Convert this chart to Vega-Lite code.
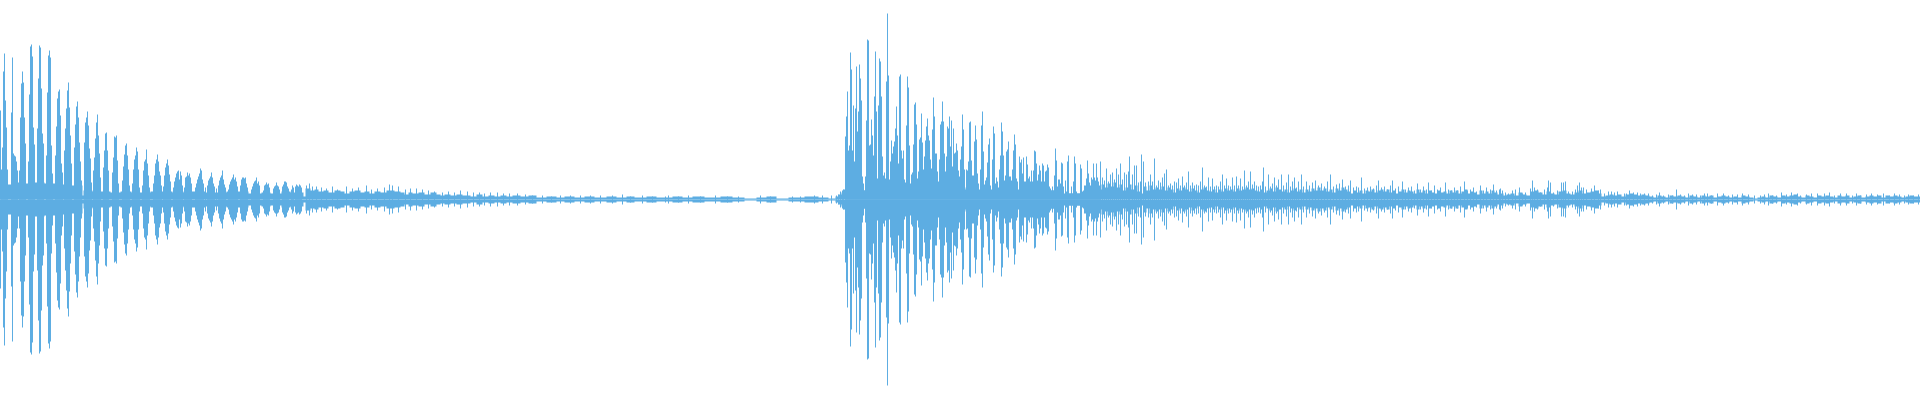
{"$schema":"https://vega.github.io/schema/vega-lite/v6.json","width":1920,"height":400,"autosize":{"type":"none"},"padding":0,"background":"white","view":{"stroke":null},
"datasets":{"core":[{"t":0,"c":16},{"t":6,"c":15},{"t":14,"c":17},{"t":20,"c":16},{"t":33,"c":17},{"t":44,"c":16},{"t":62,"c":15},{"t":71,"c":14},{"t":82,"c":4},{"t":83,"c":9},{"t":92,"c":8},{"t":110,"c":7},{"t":120,"c":8},{"t":131,"c":7},{"t":150,"c":8},{"t":172,"c":7},{"t":183,"c":8},{"t":205,"c":7},{"t":226,"c":8},{"t":248,"c":6},{"t":261,"c":7},{"t":270,"c":6},{"t":281,"c":8},{"t":290,"c":7},{"t":303,"c":3},{"t":305,"c":11},{"t":310,"c":9},{"t":314,"c":10},{"t":318,"c":8},{"t":323,"c":9},{"t":328,"c":7},{"t":334,"c":9},{"t":340,"c":8},{"t":344,"c":6},{"t":349,"c":8},{"t":354,"c":9},{"t":360,"c":7},{"t":364,"c":8},{"t":369,"c":6},{"t":374,"c":8},{"t":380,"c":7},{"t":386,"c":9},{"t":394,"c":8},{"t":400,"c":7},{"t":404,"c":5},{"t":408,"c":7},{"t":412,"c":6},{"t":418,"c":7},{"t":424,"c":5},{"t":430,"c":7},{"t":436,"c":5},{"t":440,"c":4},{"t":444,"c":5},{"t":450,"c":4},{"t":456,"c":5},{"t":462,"c":4},{"t":470,"c":3},{"t":476,"c":5},{"t":482,"c":3},{"t":488,"c":4},{"t":494,"c":3},{"t":500,"c":4},{"t":506,"c":3},{"t":512,"c":4},{"t":520,"c":3},{"t":528,"c":4},{"t":536,"c":2},{"t":546,"c":3},{"t":556,"c":2},{"t":564,"c":3},{"t":574,"c":2},{"t":584,"c":3},{"t":594,"c":2},{"t":606,"c":3},{"t":616,"c":2},{"t":626,"c":3},{"t":634,"c":2},{"t":646,"c":3},{"t":656,"c":2},{"t":672,"c":3},{"t":682,"c":2},{"t":692,"c":3},{"t":704,"c":2},{"t":720,"c":3},{"t":732,"c":2},{"t":744,"c":1},{"t":756,"c":2},{"t":766,"c":3},{"t":776,"c":1},{"t":788,"c":2},{"t":804,"c":3},{"t":818,"c":2},{"t":828,"c":1},{"t":835,"c":3},{"t":838,"c":5},{"t":841,"c":7},{"t":843,"c":10},{"t":845,"c":14},{"t":862,"c":9},{"t":865,"c":14},{"t":905,"c":12},{"t":965,"c":10},{"t":1020,"c":9},{"t":1060,"c":6},{"t":1084,"c":9},{"t":1086,"c":11},{"t":1090,"c":9},{"t":1094,"c":12},{"t":1098,"c":10},{"t":1101,"c":15},{"t":1104,"c":12},{"t":1107,"c":16},{"t":1110,"c":13},{"t":1113,"c":17},{"t":1116,"c":12},{"t":1119,"c":15},{"t":1122,"c":9},{"t":1125,"c":12},{"t":1128,"c":15},{"t":1131,"c":10},{"t":1134,"c":14},{"t":1137,"c":8},{"t":1140,"c":6},{"t":1143,"c":13},{"t":1146,"c":9},{"t":1149,"c":14},{"t":1152,"c":10},{"t":1155,"c":12},{"t":1158,"c":10},{"t":1161,"c":13},{"t":1164,"c":9},{"t":1167,"c":12},{"t":1170,"c":10},{"t":1173,"c":7},{"t":1176,"c":11},{"t":1179,"c":9},{"t":1182,"c":12},{"t":1185,"c":10},{"t":1188,"c":8},{"t":1191,"c":11},{"t":1194,"c":9},{"t":1197,"c":7},{"t":1200,"c":10},{"t":1203,"c":12},{"t":1206,"c":9},{"t":1209,"c":8},{"t":1212,"c":10},{"t":1215,"c":7},{"t":1218,"c":10},{"t":1221,"c":8},{"t":1224,"c":11},{"t":1227,"c":9},{"t":1230,"c":10},{"t":1233,"c":8},{"t":1236,"c":11},{"t":1239,"c":9},{"t":1242,"c":10},{"t":1245,"c":12},{"t":1248,"c":10},{"t":1251,"c":11},{"t":1254,"c":9},{"t":1257,"c":8},{"t":1260,"c":10},{"t":1263,"c":7},{"t":1266,"c":9},{"t":1269,"c":11},{"t":1272,"c":8},{"t":1275,"c":12},{"t":1278,"c":10},{"t":1281,"c":8},{"t":1284,"c":10},{"t":1287,"c":7},{"t":1290,"c":9},{"t":1293,"c":11},{"t":1296,"c":8},{"t":1299,"c":10},{"t":1302,"c":7},{"t":1305,"c":10},{"t":1308,"c":8},{"t":1311,"c":11},{"t":1314,"c":9},{"t":1317,"c":12},{"t":1320,"c":9},{"t":1323,"c":11},{"t":1326,"c":8},{"t":1329,"c":10},{"t":1332,"c":7},{"t":1335,"c":11},{"t":1338,"c":9},{"t":1341,"c":12},{"t":1344,"c":10},{"t":1347,"c":8},{"t":1350,"c":6},{"t":1353,"c":9},{"t":1356,"c":7},{"t":1359,"c":9},{"t":1362,"c":6},{"t":1365,"c":9},{"t":1368,"c":8},{"t":1371,"c":10},{"t":1374,"c":7},{"t":1377,"c":9},{"t":1380,"c":10},{"t":1383,"c":8},{"t":1386,"c":10},{"t":1389,"c":7},{"t":1392,"c":9},{"t":1395,"c":6},{"t":1398,"c":8},{"t":1401,"c":10},{"t":1404,"c":7},{"t":1407,"c":9},{"t":1410,"c":8},{"t":1413,"c":6},{"t":1416,"c":10},{"t":1419,"c":7},{"t":1422,"c":9},{"t":1425,"c":6},{"t":1428,"c":9},{"t":1431,"c":7},{"t":1434,"c":6},{"t":1437,"c":9},{"t":1440,"c":7},{"t":1443,"c":8},{"t":1446,"c":6},{"t":1449,"c":9},{"t":1452,"c":7},{"t":1455,"c":9},{"t":1458,"c":6},{"t":1461,"c":8},{"t":1464,"c":10},{"t":1467,"c":6},{"t":1470,"c":8},{"t":1473,"c":7},{"t":1476,"c":5},{"t":1479,"c":9},{"t":1482,"c":6},{"t":1485,"c":8},{"t":1488,"c":6},{"t":1491,"c":9},{"t":1494,"c":7},{"t":1497,"c":5},{"t":1500,"c":6},{"t":1503,"c":4},{"t":1506,"c":5},{"t":1510,"c":6},{"t":1514,"c":4},{"t":1518,"c":7},{"t":1522,"c":5},{"t":1526,"c":4},{"t":1530,"c":8},{"t":1534,"c":9},{"t":1538,"c":7},{"t":1542,"c":5},{"t":1546,"c":8},{"t":1550,"c":6},{"t":1554,"c":5},{"t":1558,"c":8},{"t":1562,"c":9},{"t":1566,"c":6},{"t":1570,"c":5},{"t":1574,"c":7},{"t":1578,"c":9},{"t":1582,"c":6},{"t":1586,"c":7},{"t":1590,"c":8},{"t":1594,"c":9},{"t":1598,"c":6},{"t":1601,"c":3},{"t":1605,"c":4},{"t":1609,"c":5},{"t":1613,"c":4},{"t":1617,"c":5},{"t":1621,"c":3},{"t":1625,"c":5},{"t":1629,"c":6},{"t":1633,"c":5},{"t":1637,"c":4},{"t":1641,"c":5},{"t":1645,"c":4},{"t":1649,"c":3},{"t":1653,"c":2},{"t":1657,"c":4},{"t":1661,"c":3},{"t":1665,"c":2},{"t":1669,"c":4},{"t":1673,"c":3},{"t":1677,"c":4},{"t":1681,"c":3},{"t":1685,"c":2},{"t":1689,"c":4},{"t":1693,"c":3},{"t":1697,"c":2},{"t":1701,"c":4},{"t":1705,"c":3},{"t":1709,"c":4},{"t":1713,"c":2},{"t":1717,"c":3},{"t":1721,"c":4},{"t":1725,"c":3},{"t":1729,"c":2},{"t":1733,"c":3},{"t":1737,"c":2},{"t":1741,"c":4},{"t":1745,"c":3},{"t":1749,"c":2},{"t":1753,"c":1},{"t":1757,"c":2},{"t":1761,"c":3},{"t":1765,"c":2},{"t":1769,"c":4},{"t":1773,"c":3},{"t":1777,"c":2},{"t":1781,"c":4},{"t":1785,"c":3},{"t":1789,"c":4},{"t":1793,"c":5},{"t":1797,"c":3},{"t":1801,"c":2},{"t":1805,"c":4},{"t":1809,"c":3},{"t":1813,"c":2},{"t":1817,"c":4},{"t":1821,"c":3},{"t":1825,"c":4},{"t":1829,"c":3},{"t":1833,"c":2},{"t":1837,"c":4},{"t":1841,"c":3},{"t":1845,"c":4},{"t":1849,"c":2},{"t":1853,"c":3},{"t":1857,"c":4},{"t":1861,"c":2},{"t":1865,"c":3},{"t":1869,"c":4},{"t":1873,"c":3},{"t":1877,"c":4},{"t":1881,"c":2},{"t":1885,"c":4},{"t":1889,"c":3},{"t":1893,"c":4},{"t":1897,"c":3},{"t":1901,"c":2},{"t":1905,"c":3},{"t":1909,"c":4},{"t":1913,"c":3},{"t":1920,"c":3}],
"wave":[{"t":0,"a":89},{"t":1,"a":30},{"t":2,"a":52},{"t":3,"a":128},{"t":4,"a":146},{"t":5,"a":99},{"t":6,"a":72},{"t":7,"a":30},{"t":11,"a":87},{"t":12,"a":142},{"t":13,"a":46},{"t":14,"a":44},{"t":15,"a":43},{"t":16,"a":38},{"t":17,"a":29},{"t":19,"a":29},{"t":20,"a":82},{"t":21,"a":116},{"t":22,"a":128},{"t":23,"a":117},{"t":24,"a":82},{"t":25,"a":56},{"t":28,"a":38},{"t":29,"a":105},{"t":30,"a":153},{"t":31,"a":155},{"t":32,"a":143},{"t":33,"a":72},{"t":34,"a":55},{"t":37,"a":71},{"t":38,"a":121},{"t":39,"a":154},{"t":40,"a":152},{"t":41,"a":111},{"t":42,"a":66},{"t":43,"a":56},{"t":46,"a":44},{"t":47,"a":107},{"t":48,"a":144},{"t":49,"a":149},{"t":50,"a":142},{"t":51,"a":54},{"t":52,"a":26},{"t":55,"a":44},{"t":56,"a":73},{"t":57,"a":101},{"t":58,"a":108},{"t":59,"a":110},{"t":60,"a":84},{"t":61,"a":36},{"t":62,"a":27},{"t":64,"a":49},{"t":65,"a":71},{"t":66,"a":91},{"t":67,"a":109},{"t":68,"a":117},{"t":69,"a":92},{"t":70,"a":64},{"t":71,"a":36},{"t":74,"a":52},{"t":75,"a":75},{"t":76,"a":93},{"t":77,"a":98},{"t":78,"a":82},{"t":79,"a":57},{"t":80,"a":38},{"t":81,"a":19},{"t":84,"a":57},{"t":85,"a":77},{"t":86,"a":82},{"t":87,"a":88},{"t":88,"a":74},{"t":89,"a":51},{"t":90,"a":41},{"t":91,"a":17},{"t":93,"a":29},{"t":94,"a":42},{"t":95,"a":61},{"t":96,"a":77},{"t":97,"a":85},{"t":98,"a":64},{"t":99,"a":46},{"t":100,"a":22},{"t":103,"a":32},{"t":104,"a":49},{"t":105,"a":66},{"t":106,"a":67},{"t":107,"a":49},{"t":108,"a":29},{"t":112,"a":27},{"t":113,"a":42},{"t":114,"a":63},{"t":115,"a":62},{"t":116,"a":64},{"t":117,"a":39},{"t":118,"a":16},{"t":122,"a":19},{"t":123,"a":33},{"t":124,"a":45},{"t":125,"a":54},{"t":126,"a":56},{"t":127,"a":44},{"t":128,"a":30},{"t":129,"a":14},{"t":132,"a":16},{"t":133,"a":30},{"t":134,"a":40},{"t":135,"a":44},{"t":136,"a":52},{"t":137,"a":48},{"t":138,"a":30},{"t":139,"a":12},{"t":142,"a":14},{"t":143,"a":29},{"t":144,"a":38},{"t":145,"a":40},{"t":146,"a":50},{"t":147,"a":36},{"t":148,"a":24},{"t":149,"a":12},{"t":153,"a":16},{"t":154,"a":24},{"t":155,"a":36},{"t":156,"a":40},{"t":157,"a":45},{"t":158,"a":38},{"t":159,"a":28},{"t":160,"a":24},{"t":161,"a":14},{"t":163,"a":13},{"t":164,"a":24},{"t":165,"a":32},{"t":166,"a":36},{"t":167,"a":40},{"t":168,"a":34},{"t":169,"a":25},{"t":170,"a":18},{"t":173,"a":12},{"t":174,"a":18},{"t":175,"a":22},{"t":176,"a":26},{"t":177,"a":28},{"t":178,"a":29},{"t":179,"a":20},{"t":180,"a":28},{"t":181,"a":24},{"t":182,"a":14},{"t":184,"a":12},{"t":185,"a":22},{"t":186,"a":23},{"t":187,"a":27},{"t":188,"a":24},{"t":189,"a":26},{"t":190,"a":22},{"t":191,"a":16},{"t":195,"a":12},{"t":196,"a":16},{"t":197,"a":20},{"t":198,"a":23},{"t":199,"a":26},{"t":200,"a":31},{"t":201,"a":29},{"t":202,"a":20},{"t":203,"a":16},{"t":205,"a":12},{"t":207,"a":14},{"t":208,"a":19},{"t":209,"a":21},{"t":210,"a":23},{"t":211,"a":27},{"t":212,"a":22},{"t":213,"a":16},{"t":214,"a":13},{"t":216,"a":11},{"t":218,"a":14},{"t":219,"a":19},{"t":220,"a":22},{"t":221,"a":24},{"t":222,"a":29},{"t":223,"a":20},{"t":224,"a":15},{"t":225,"a":12},{"t":228,"a":10},{"t":229,"a":15},{"t":230,"a":18},{"t":231,"a":20},{"t":232,"a":22},{"t":233,"a":25},{"t":234,"a":20},{"t":235,"a":22},{"t":236,"a":18},{"t":237,"a":13},{"t":240,"a":14},{"t":241,"a":20},{"t":242,"a":22},{"t":243,"a":22},{"t":244,"a":21},{"t":245,"a":22},{"t":246,"a":16},{"t":247,"a":12},{"t":251,"a":10},{"t":252,"a":13},{"t":253,"a":16},{"t":254,"a":18},{"t":255,"a":19},{"t":256,"a":22},{"t":257,"a":16},{"t":258,"a":18},{"t":259,"a":14},{"t":263,"a":9},{"t":264,"a":14},{"t":265,"a":15},{"t":266,"a":17},{"t":267,"a":15},{"t":268,"a":16},{"t":269,"a":12},{"t":273,"a":11},{"t":274,"a":13},{"t":275,"a":14},{"t":276,"a":17},{"t":277,"a":14},{"t":278,"a":13},{"t":279,"a":10},{"t":282,"a":13},{"t":283,"a":15},{"t":284,"a":18},{"t":285,"a":18},{"t":286,"a":17},{"t":287,"a":13},{"t":288,"a":11},{"t":291,"a":10},{"t":292,"a":14},{"t":293,"a":12},{"t":295,"a":13},{"t":296,"a":15},{"t":297,"a":14},{"t":298,"a":13},{"t":299,"a":15},{"t":300,"a":14},{"t":301,"a":12},{"t":306,"a":14},{"t":309,"a":16},{"t":312,"a":13},{"t":316,"a":13},{"t":321,"a":12},{"t":326,"a":11},{"t":332,"a":13},{"t":337,"a":10},{"t":346,"a":13},{"t":352,"a":11},{"t":358,"a":12},{"t":366,"a":14},{"t":371,"a":10},{"t":377,"a":11},{"t":384,"a":12},{"t":389,"a":15},{"t":392,"a":14},{"t":398,"a":13},{"t":405,"a":10},{"t":410,"a":11},{"t":416,"a":11},{"t":422,"a":10},{"t":428,"a":9},{"t":434,"a":8},{"t":442,"a":7},{"t":448,"a":8},{"t":454,"a":7},{"t":460,"a":9},{"t":467,"a":8},{"t":473,"a":7},{"t":479,"a":7},{"t":484,"a":6},{"t":490,"a":7},{"t":497,"a":7},{"t":503,"a":6},{"t":509,"a":6},{"t":517,"a":6},{"t":525,"a":5},{"t":532,"a":4},{"t":542,"a":4},{"t":551,"a":3},{"t":560,"a":4},{"t":570,"a":4},{"t":580,"a":4},{"t":590,"a":4},{"t":600,"a":4},{"t":612,"a":4},{"t":622,"a":5},{"t":630,"a":3},{"t":642,"a":4},{"t":652,"a":3},{"t":665,"a":3},{"t":668,"a":4},{"t":678,"a":3},{"t":688,"a":4},{"t":700,"a":3},{"t":715,"a":4},{"t":727,"a":3},{"t":738,"a":3},{"t":760,"a":4},{"t":770,"a":3},{"t":792,"a":3},{"t":800,"a":3},{"t":814,"a":4},{"t":822,"a":4},{"t":831,"a":4},{"t":836,"a":4},{"t":838,"a":5},{"t":840,"a":8},{"t":842,"a":9},{"t":843,"a":10},{"t":845,"a":63},{"t":846,"a":83},{"t":847,"a":108},{"t":848,"a":49},{"t":849,"a":54},{"t":850,"a":147},{"t":851,"a":130},{"t":852,"a":49},{"t":853,"a":94},{"t":854,"a":38},{"t":855,"a":91},{"t":856,"a":133},{"t":857,"a":68},{"t":858,"a":88},{"t":859,"a":135},{"t":860,"a":121},{"t":861,"a":99},{"t":862,"a":23},{"t":863,"a":16},{"t":864,"a":9},{"t":865,"a":23},{"t":866,"a":79},{"t":867,"a":160},{"t":868,"a":159},{"t":869,"a":54},{"t":870,"a":55},{"t":871,"a":80},{"t":872,"a":64},{"t":873,"a":44},{"t":874,"a":103},{"t":875,"a":148},{"t":876,"a":88},{"t":877,"a":21},{"t":878,"a":94},{"t":879,"a":141},{"t":880,"a":138},{"t":881,"a":103},{"t":882,"a":43},{"t":883,"a":24},{"t":884,"a":27},{"t":885,"a":21},{"t":886,"a":118},{"t":887,"a":186},{"t":888,"a":124},{"t":889,"a":20},{"t":890,"a":38},{"t":891,"a":59},{"t":892,"a":46},{"t":893,"a":53},{"t":894,"a":58},{"t":895,"a":71},{"t":896,"a":93},{"t":897,"a":64},{"t":898,"a":36},{"t":899,"a":123},{"t":900,"a":125},{"t":901,"a":49},{"t":902,"a":41},{"t":903,"a":49},{"t":904,"a":20},{"t":905,"a":17},{"t":906,"a":74},{"t":907,"a":123},{"t":908,"a":112},{"t":909,"a":54},{"t":910,"a":16},{"t":911,"a":25},{"t":912,"a":27},{"t":913,"a":55},{"t":914,"a":95},{"t":915,"a":97},{"t":916,"a":75},{"t":917,"a":21},{"t":918,"a":28},{"t":919,"a":60},{"t":920,"a":62},{"t":921,"a":86},{"t":922,"a":57},{"t":923,"a":30},{"t":924,"a":43},{"t":925,"a":59},{"t":926,"a":73},{"t":927,"a":81},{"t":928,"a":64},{"t":929,"a":59},{"t":930,"a":40},{"t":931,"a":31},{"t":932,"a":70},{"t":933,"a":102},{"t":934,"a":83},{"t":935,"a":46},{"t":936,"a":46},{"t":937,"a":28},{"t":938,"a":18},{"t":939,"a":40},{"t":940,"a":75},{"t":941,"a":78},{"t":942,"a":98},{"t":943,"a":78},{"t":944,"a":46},{"t":945,"a":28},{"t":946,"a":43},{"t":947,"a":73},{"t":948,"a":71},{"t":949,"a":83},{"t":950,"a":53},{"t":951,"a":79},{"t":952,"a":33},{"t":953,"a":71},{"t":954,"a":46},{"t":955,"a":47},{"t":956,"a":56},{"t":957,"a":49},{"t":958,"a":29},{"t":959,"a":23},{"t":960,"a":40},{"t":961,"a":53},{"t":962,"a":85},{"t":963,"a":70},{"t":964,"a":30},{"t":965,"a":9},{"t":966,"a":30},{"t":967,"a":29},{"t":968,"a":38},{"t":969,"a":77},{"t":970,"a":78},{"t":971,"a":39},{"t":972,"a":24},{"t":973,"a":24},{"t":974,"a":58},{"t":975,"a":74},{"t":976,"a":60},{"t":977,"a":26},{"t":978,"a":16},{"t":979,"a":9},{"t":980,"a":30},{"t":981,"a":74},{"t":982,"a":88},{"t":983,"a":48},{"t":984,"a":15},{"t":985,"a":19},{"t":986,"a":22},{"t":987,"a":37},{"t":988,"a":55},{"t":989,"a":61},{"t":990,"a":14},{"t":991,"a":9},{"t":992,"a":40},{"t":993,"a":73},{"t":994,"a":66},{"t":995,"a":16},{"t":996,"a":22},{"t":997,"a":18},{"t":998,"a":12},{"t":999,"a":30},{"t":1000,"a":44},{"t":1001,"a":77},{"t":1002,"a":68},{"t":1003,"a":44},{"t":1004,"a":19},{"t":1005,"a":24},{"t":1006,"a":48},{"t":1007,"a":50},{"t":1008,"a":58},{"t":1009,"a":23},{"t":1010,"a":23},{"t":1011,"a":19},{"t":1012,"a":30},{"t":1013,"a":49},{"t":1014,"a":65},{"t":1015,"a":55},{"t":1016,"a":21},{"t":1017,"a":18},{"t":1018,"a":8},{"t":1019,"a":43},{"t":1020,"a":37},{"t":1021,"a":40},{"t":1022,"a":26},{"t":1023,"a":42},{"t":1024,"a":18},{"t":1025,"a":18},{"t":1026,"a":43},{"t":1027,"a":35},{"t":1028,"a":21},{"t":1029,"a":23},{"t":1030,"a":18},{"t":1031,"a":29},{"t":1032,"a":18},{"t":1033,"a":29},{"t":1034,"a":49},{"t":1035,"a":48},{"t":1036,"a":36},{"t":1037,"a":19},{"t":1038,"a":25},{"t":1039,"a":34},{"t":1040,"a":29},{"t":1041,"a":18},{"t":1042,"a":36},{"t":1043,"a":34},{"t":1044,"a":18},{"t":1045,"a":28},{"t":1046,"a":29},{"t":1047,"a":35},{"t":1048,"a":32},{"t":1049,"a":13},{"t":1050,"a":11},{"t":1051,"a":9},{"t":1052,"a":13},{"t":1053,"a":9},{"t":1054,"a":24},{"t":1055,"a":51},{"t":1056,"a":39},{"t":1057,"a":13},{"t":1058,"a":20},{"t":1059,"a":20},{"t":1060,"a":16},{"t":1061,"a":37},{"t":1062,"a":36},{"t":1063,"a":13},{"t":1064,"a":4},{"t":1065,"a":19},{"t":1066,"a":8},{"t":1067,"a":38},{"t":1068,"a":44},{"t":1069,"a":6},{"t":1070,"a":6},{"t":1071,"a":13},{"t":1072,"a":6},{"t":1073,"a":18},{"t":1074,"a":43},{"t":1075,"a":36},{"t":1076,"a":8},{"t":1077,"a":6},{"t":1078,"a":6},{"t":1079,"a":6},{"t":1080,"a":35},{"t":1081,"a":31},{"t":1082,"a":8},{"t":1083,"a":9},{"t":1084,"a":14},{"t":1085,"a":14},{"t":1086,"a":21},{"t":1087,"a":39},{"t":1088,"a":26},{"t":1089,"a":17},{"t":1090,"a":14},{"t":1091,"a":22},{"t":1092,"a":20},{"t":1093,"a":36},{"t":1094,"a":22},{"t":1095,"a":19},{"t":1096,"a":36},{"t":1097,"a":22},{"t":1098,"a":18},{"t":1099,"a":14},{"t":1100,"a":38},{"t":1102,"a":22},{"t":1104,"a":19},{"t":1106,"a":31},{"t":1108,"a":18},{"t":1110,"a":25},{"t":1112,"a":27},{"t":1114,"a":20},{"t":1116,"a":31},{"t":1118,"a":25},{"t":1120,"a":36},{"t":1122,"a":20},{"t":1124,"a":27},{"t":1126,"a":25},{"t":1128,"a":28},{"t":1129,"a":43},{"t":1132,"a":25},{"t":1134,"a":34},{"t":1136,"a":34},{"t":1138,"a":17},{"t":1140,"a":18},{"t":1141,"a":45},{"t":1143,"a":38},{"t":1145,"a":17},{"t":1148,"a":18},{"t":1150,"a":25},{"t":1152,"a":18},{"t":1154,"a":41},{"t":1156,"a":14},{"t":1158,"a":19},{"t":1160,"a":17},{"t":1162,"a":22},{"t":1164,"a":26},{"t":1166,"a":30},{"t":1168,"a":14},{"t":1170,"a":16},{"t":1172,"a":14},{"t":1174,"a":18},{"t":1176,"a":17},{"t":1178,"a":21},{"t":1180,"a":14},{"t":1182,"a":23},{"t":1184,"a":14},{"t":1186,"a":17},{"t":1188,"a":28},{"t":1190,"a":14},{"t":1192,"a":17},{"t":1194,"a":14},{"t":1196,"a":15},{"t":1198,"a":14},{"t":1200,"a":18},{"t":1202,"a":32},{"t":1204,"a":14},{"t":1206,"a":13},{"t":1208,"a":22},{"t":1210,"a":13},{"t":1212,"a":21},{"t":1214,"a":13},{"t":1216,"a":14},{"t":1218,"a":13},{"t":1220,"a":18},{"t":1222,"a":25},{"t":1224,"a":14},{"t":1226,"a":21},{"t":1228,"a":14},{"t":1230,"a":13},{"t":1232,"a":22},{"t":1234,"a":14},{"t":1236,"a":23},{"t":1238,"a":14},{"t":1240,"a":21},{"t":1242,"a":13},{"t":1244,"a":29},{"t":1246,"a":14},{"t":1248,"a":18},{"t":1250,"a":28},{"t":1252,"a":15},{"t":1254,"a":18},{"t":1256,"a":14},{"t":1258,"a":13},{"t":1260,"a":14},{"t":1262,"a":18},{"t":1263,"a":32},{"t":1265,"a":13},{"t":1268,"a":25},{"t":1270,"a":13},{"t":1272,"a":16},{"t":1274,"a":22},{"t":1276,"a":14},{"t":1278,"a":20},{"t":1281,"a":25},{"t":1283,"a":14},{"t":1286,"a":17},{"t":1288,"a":25},{"t":1290,"a":13},{"t":1292,"a":18},{"t":1294,"a":22},{"t":1296,"a":12},{"t":1298,"a":18},{"t":1301,"a":25},{"t":1303,"a":13},{"t":1306,"a":18},{"t":1309,"a":14},{"t":1312,"a":17},{"t":1315,"a":19},{"t":1318,"a":14},{"t":1321,"a":16},{"t":1324,"a":13},{"t":1327,"a":18},{"t":1330,"a":25},{"t":1333,"a":13},{"t":1336,"a":15},{"t":1339,"a":16},{"t":1342,"a":20},{"t":1345,"a":13},{"t":1348,"a":14},{"t":1350,"a":19},{"t":1353,"a":12},{"t":1356,"a":13},{"t":1358,"a":12},{"t":1361,"a":22},{"t":1364,"a":11},{"t":1367,"a":12},{"t":1370,"a":13},{"t":1373,"a":11},{"t":1376,"a":14},{"t":1378,"a":19},{"t":1381,"a":12},{"t":1384,"a":13},{"t":1387,"a":10},{"t":1390,"a":14},{"t":1392,"a":19},{"t":1395,"a":11},{"t":1398,"a":13},{"t":1402,"a":18},{"t":1405,"a":10},{"t":1408,"a":12},{"t":1411,"a":13},{"t":1414,"a":9},{"t":1417,"a":16},{"t":1420,"a":10},{"t":1423,"a":13},{"t":1426,"a":10},{"t":1428,"a":17},{"t":1431,"a":9},{"t":1434,"a":14},{"t":1437,"a":10},{"t":1440,"a":12},{"t":1445,"a":17},{"t":1448,"a":10},{"t":1451,"a":9},{"t":1454,"a":12},{"t":1457,"a":9},{"t":1460,"a":13},{"t":1464,"a":18},{"t":1467,"a":9},{"t":1470,"a":10},{"t":1473,"a":12},{"t":1476,"a":8},{"t":1480,"a":14},{"t":1483,"a":9},{"t":1486,"a":12},{"t":1490,"a":10},{"t":1493,"a":15},{"t":1496,"a":9},{"t":1499,"a":10},{"t":1500,"a":11},{"t":1502,"a":9},{"t":1505,"a":7},{"t":1508,"a":6},{"t":1512,"a":9},{"t":1515,"a":10},{"t":1519,"a":12},{"t":1522,"a":6},{"t":1525,"a":7},{"t":1530,"a":11},{"t":1532,"a":19},{"t":1534,"a":12},{"t":1537,"a":10},{"t":1540,"a":7},{"t":1544,"a":10},{"t":1547,"a":12},{"t":1548,"a":19},{"t":1550,"a":17},{"t":1553,"a":7},{"t":1557,"a":9},{"t":1561,"a":17},{"t":1563,"a":17},{"t":1565,"a":18},{"t":1568,"a":8},{"t":1572,"a":8},{"t":1575,"a":10},{"t":1577,"a":14},{"t":1579,"a":17},{"t":1581,"a":12},{"t":1583,"a":12},{"t":1586,"a":10},{"t":1591,"a":11},{"t":1594,"a":14},{"t":1598,"a":9},{"t":1600,"a":10},{"t":1604,"a":6},{"t":1608,"a":8},{"t":1611,"a":8},{"t":1614,"a":7},{"t":1617,"a":8},{"t":1620,"a":4},{"t":1624,"a":6},{"t":1626,"a":6},{"t":1629,"a":9},{"t":1633,"a":7},{"t":1637,"a":7},{"t":1640,"a":6},{"t":1644,"a":6},{"t":1648,"a":6},{"t":1652,"a":4},{"t":1656,"a":5},{"t":1659,"a":7},{"t":1663,"a":4},{"t":1668,"a":5},{"t":1672,"a":4},{"t":1676,"a":10},{"t":1680,"a":5},{"t":1684,"a":4},{"t":1688,"a":6},{"t":1692,"a":5},{"t":1696,"a":5},{"t":1700,"a":4},{"t":1704,"a":6},{"t":1707,"a":6},{"t":1711,"a":4},{"t":1717,"a":6},{"t":1723,"a":6},{"t":1728,"a":4},{"t":1732,"a":5},{"t":1737,"a":5},{"t":1742,"a":6},{"t":1748,"a":5},{"t":1754,"a":4},{"t":1760,"a":4},{"t":1764,"a":5},{"t":1768,"a":6},{"t":1772,"a":4},{"t":1776,"a":4},{"t":1781,"a":7},{"t":1786,"a":5},{"t":1791,"a":7},{"t":1797,"a":6},{"t":1800,"a":4},{"t":1806,"a":5},{"t":1811,"a":6},{"t":1817,"a":6},{"t":1824,"a":6},{"t":1829,"a":7},{"t":1834,"a":4},{"t":1840,"a":6},{"t":1846,"a":6},{"t":1852,"a":4},{"t":1856,"a":6},{"t":1860,"a":4},{"t":1866,"a":5},{"t":1871,"a":6},{"t":1877,"a":5},{"t":1883,"a":6},{"t":1889,"a":4},{"t":1894,"a":6},{"t":1899,"a":5},{"t":1904,"a":4},{"t":1908,"a":5},{"t":1913,"a":4},{"t":1918,"a":5}]},
"encoding":{"x":{"field":"t","type":"quantitative","axis":null,"scale":{"domain":[-0.5,1919.5],"range":[0,1920],"nice":false,"zero":false}}},
"layer":[
{"data":{"name":"core"},"mark":{"type":"area","interpolate":"step-after","color":"#5dade2","opacity":1},"encoding":{"y":{"field":"c","type":"quantitative","axis":null,"scale":{"domain":[-200.5,199.5],"range":[400,0],"nice":false,"zero":false}},"y2":{"datum":0}}},
{"data":{"name":"core"},"mark":{"type":"area","interpolate":"step-after","color":"#5dade2","opacity":1},"encoding":{"y":{"field":"c","type":"quantitative","axis":null,"scale":{"domain":[-199.5,200.5],"range":[0,400],"nice":false,"zero":false}},"y2":{"datum":0}}},
{"data":{"name":"wave"},"mark":{"type":"rule","color":"#5dade2","strokeWidth":1,"opacity":1},"encoding":{"y":{"field":"a","type":"quantitative","axis":null,"scale":{"domain":[-200.5,199.5],"range":[400,0],"nice":false,"zero":false}},"y2":{"datum":0}}},
{"data":{"name":"wave"},"mark":{"type":"rule","color":"#5dade2","strokeWidth":1,"opacity":1},"encoding":{"y":{"field":"a","type":"quantitative","axis":null,"scale":{"domain":[-199.5,200.5],"range":[0,400],"nice":false,"zero":false}},"y2":{"datum":0}}}
],
"resolve":{"scale":{"y":"independent"}}}
